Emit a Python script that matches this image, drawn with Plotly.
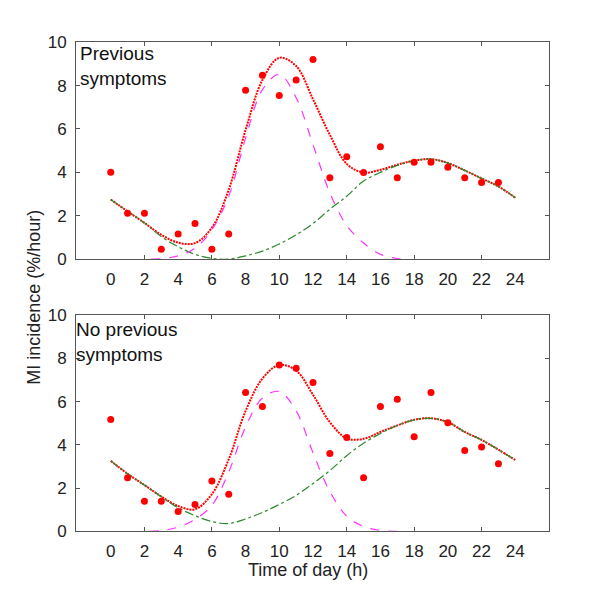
import plotly.graph_objects as go

# hours of the day for the hourly points and the fitted curves
hours = list(range(24))
curve_hours = list(range(25))

# observed MI incidence (%/hour), previous symptoms
obs_prev = [4.0, 2.11, 2.11, 0.45, 1.16, 1.64, 0.45, 1.16, 7.78, 8.48, 7.54, 8.26,
            9.2, 3.75, 4.72, 3.99, 5.18, 3.75, 4.46, 4.46, 4.24, 3.75, 3.53, 3.53]
# observed MI incidence, no previous symptoms
obs_noprev = [5.17, 2.48, 1.39, 1.39, 0.91, 1.24, 2.33, 1.72, 6.43, 5.78, 7.7, 7.55,
              6.89, 3.6, 4.34, 2.48, 5.78, 6.11, 4.38, 6.43, 5.02, 3.74, 3.9, 3.13]

# total fit (red), slow component (green), morning peak (magenta)
fit_prev = [2.75, 2.2, 1.67, 1.12, 0.76, 0.74, 1.45, 3.2, 5.95, 8.26, 9.28, 8.9, 7.37,
            5.73, 4.39, 3.99, 4.12, 4.35, 4.54, 4.61, 4.43, 4.09, 3.72, 3.35, 2.83]
slow_prev = [2.75, 2.2, 1.67, 1.04, 0.57, 0.22, 0.04, 0.0, 0.15, 0.37, 0.7, 1.12, 1.64,
             2.3, 2.9, 3.6, 4.0, 4.32, 4.54, 4.61, 4.43, 4.09, 3.72, 3.35, 2.83]
peak_prev_h = [2.4, 3, 4, 5, 6, 7, 8, 9, 10, 11, 12, 13, 14, 15, 16, 17, 17.4]
peak_prev = [0.0, 0.02, 0.15, 0.5, 1.35, 2.9, 5.58, 7.81, 8.52, 7.44, 5.28, 3.05,
             1.55, 0.74, 0.22, 0.03, 0.0]

fit_noprev = [3.26, 2.66, 2.14, 1.61, 1.17, 1.02, 1.72, 3.33, 5.57, 7.07, 7.7, 7.44, 6.32,
              5.05, 4.3, 4.28, 4.6, 4.9, 5.16, 5.23, 5.05, 4.6, 4.23, 3.78, 3.3]
slow_noprev = [3.26, 2.66, 2.14, 1.6, 1.09, 0.72, 0.45, 0.36, 0.57, 0.87, 1.24, 1.66, 2.21,
               2.81, 3.5, 4.08, 4.53, 4.9, 5.16, 5.23, 5.05, 4.6, 4.23, 3.78, 3.3]
peak_noprev_h = [2.3, 3, 4, 5, 6, 7, 8, 9, 10, 11, 12, 13, 14, 15, 16, 17.1]
peak_noprev = [0.0, 0.03, 0.19, 0.55, 1.2, 2.74, 4.83, 6.17, 6.47, 5.57, 3.63, 1.84,
               0.7, 0.22, 0.04, 0.0]

x_labels = list(range(0, 25, 2))
x_marks = [2, 6, 10, 14, 18, 22]
y_labels = list(range(0, 11, 2))

W, H = 600, 603
FONT = "Liberation Sans, Arial, sans-serif"

fig = go.Figure()

panels = [
    ("x", "y", obs_prev, fit_prev, slow_prev, peak_prev_h, peak_prev),
    ("x2", "y2", obs_noprev, fit_noprev, slow_noprev, peak_noprev_h, peak_noprev),
]
for xa, ya, obs, fit, slow, ph, pk in panels:
    fig.add_trace(go.Scatter(x=curve_hours, y=fit, xaxis=xa, yaxis=ya, mode="lines",
                             line=dict(color="#ff0000", width=2, dash="2px,1px", shape="spline")))
    fig.add_trace(go.Scatter(x=curve_hours, y=slow, xaxis=xa, yaxis=ya, mode="lines",
                             line=dict(color="#2b8a2b", width=1.2, dash="dashdot", shape="spline")))
    fig.add_trace(go.Scatter(x=ph, y=pk, xaxis=xa, yaxis=ya, mode="lines",
                             line=dict(color="#ff33ff", width=1.2, dash="dash", shape="spline")))
    fig.add_trace(go.Scatter(x=hours, y=obs, xaxis=xa, yaxis=ya, mode="markers",
                             marker=dict(color="#ff0000", size=7)))

xdom = [68 / W, 541 / W]
xrange_ = [-2.06, 26.0]
doms = {"": [1 - 250 / H, 1 - 26 / H], "2": [1 - 531 / H, 1 - 308 / H]}

axes = {}
for k, dom in doms.items():
    axes["xaxis" + k] = dict(domain=xdom, range=xrange_, anchor="y" + k, showgrid=False,
                            zeroline=False, showline=True, linecolor="#555", linewidth=1,
                            mirror="ticks", tickmode="array", tickvals=x_marks,
                            showticklabels=False, ticks="inside", ticklen=4,
                            tickcolor="#555")
    axes["yaxis" + k] = dict(domain=dom, range=[0, 10], anchor="x" + k, showgrid=False,
                            zeroline=False, showline=True, linecolor="#555", linewidth=1,
                            mirror="ticks", tickmode="array", tickvals=y_labels,
                            ticks="inside", ticklen=4, tickcolor="#555",
                            ticklabelstandoff=5, tickfont=dict(size=17, color="#222"))
# separate label axes so the labels sit every 2 h while marks sit every 4 h
axes["xaxis3"] = dict(overlaying="x", matches="x", anchor="y", domain=xdom, range=xrange_,
                      showgrid=False, zeroline=False, showline=False, ticks="",
                      tickmode="array", tickvals=x_labels, ticklabelstandoff=8,
                      tickfont=dict(size=17, color="#222"))
axes["xaxis4"] = dict(overlaying="x2", matches="x2", anchor="y2", domain=xdom, range=xrange_,
                      showgrid=False, zeroline=False, showline=False, ticks="",
                      tickmode="array", tickvals=x_labels, ticklabelstandoff=8,
                      tickfont=dict(size=17, color="#222"))
# hidden carriers so the label axes are drawn
fig.add_trace(go.Scatter(x=[], y=[], xaxis="x3", yaxis="y", showlegend=False))
fig.add_trace(go.Scatter(x=[], y=[], xaxis="x4", yaxis="y2", showlegend=False))

fig.update_layout(
    width=W, height=H, margin=dict(l=0, r=0, t=0, b=0),
    paper_bgcolor="white", plot_bgcolor="white", showlegend=False,
    font=dict(family=FONT, size=17, color="#222"),
    annotations=[
        dict(text="Previous<br>symptoms", x=70 / W, y=1 - 25 / H, xref="paper", yref="paper",
             xanchor="left", yanchor="top", align="left", showarrow=False,
             font=dict(size=19, color="#111")),
        dict(text="No previous<br>symptoms", x=66 / W, y=1 - 310 / H, xref="paper",
             yref="paper", xanchor="left", yanchor="top", align="left", showarrow=False,
             font=dict(size=19, color="#111")),
        dict(text="MI incidence (%/hour)", x=26 / W, y=1 - 290 / H, xref="paper",
             yref="paper", xanchor="center", yanchor="middle", textangle=-90,
             showarrow=False, font=dict(size=18, color="#222")),
        dict(text="Time of day (h)", x=300 / W, y=1 - 571 / H, xref="paper", yref="paper",
             xanchor="center", yanchor="middle", showarrow=False,
             font=dict(size=18, color="#222")),
    ],
    **axes,
)

fig.write_html("out.html")
